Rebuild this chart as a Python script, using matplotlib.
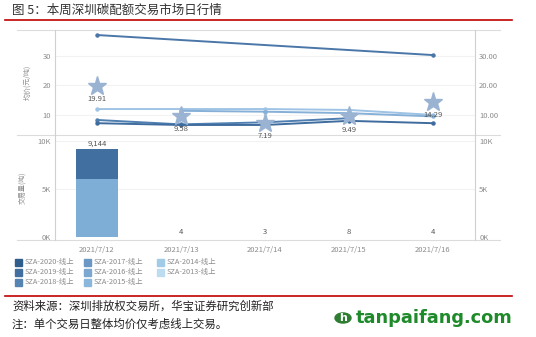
import numpy as np
import matplotlib
matplotlib.use("Agg")
import matplotlib.pyplot as plt
from matplotlib.patches import Circle
from matplotlib.lines import Line2D
from matplotlib.patches import Rectangle

plt.rcParams['font.family'] = ['Noto Sans CJK SC', 'DejaVu Sans']

# ---- data ----
dates = ["2021/7/12", "2021/7/13", "2021/7/14", "2021/7/15", "2021/7/16"]
avg_price = [19.91, 9.58, 7.19, 9.49, 14.29]
avg_price_labels = ["19.91", "9.58", "7.19", "9.49", "14.29"]
nan = np.nan
price_2020 = [37.1, nan, nan, nan, 30.3]
price_2013 = [12.0, 12.0, 12.0, 11.7, 10.0]
price_2014 = [nan, 11.4, 11.1, 10.6, 9.5]
price_2018 = [8.3, 6.8, 7.5, 8.9, nan]
price_2019 = [7.2, 6.6, 6.6, 8.0, 7.2]
volume_2019 = [3144, 0, 0, 0, 0]
volume_2015 = [6000, 4, 3, 8, 4]
volume_total = [9144, 4, 3, 8, 4]
volume_labels = ["9,144", "4", "3", "8", "4"]
legend_names = ["SZA-2020-线上", "SZA-2019-线上", "SZA-2018-线上",
                "SZA-2017-线上", "SZA-2016-线上", "SZA-2015-线上",
                "SZA-2014-线上", "SZA-2013-线上"]
legend_colors = ["#2f5d8c", "#416f9f", "#5584b3", "#6a97c3",
                 "#7ba7d0", "#8cb7dc", "#a2cbe8", "#bddcf0"]

W, H = 536, 337
fig = plt.figure(figsize=(W / 100, H / 100), dpi=100)


def rect(x0, y0, x1, y1):
    return [x0 / W, 1 - y1 / H, (x1 - x0) / W, (y1 - y0) / H]


tick_col = "#8c8c8c"
ax_line = "#d0d0d0"
x = np.arange(len(dates))

# ---- volume panel (drawn first so the price labels can overlap it) ----
ax2 = fig.add_axes(rect(55, 135, 475, 240))
ax2.patch.set_visible(False)
ax2.set_xlim(-0.5, 4.5)
ax2.set_ylim(-300, 10600)
for yv in [5000, 10000]:
    ax2.axhline(yv, color="#f2f2f2", lw=0.8, zorder=0)
ax2.bar(x, volume_2015, width=0.5, color="#7eaed6", zorder=2)
ax2.bar(x, volume_2019, width=0.5, bottom=volume_2015, color="#416f9f",
        zorder=2)
for xi, v, lab in zip(x, volume_total, volume_labels):
    ax2.text(xi, v + 150, lab, ha="center", va="bottom", fontsize=5.5,
             color="#555555")
ax2.set_yticks([0, 5000, 10000])
ax2.set_yticklabels(["0K", "5K", "10K"])
ax2.set_xticks(x)
ax2.set_xticklabels(dates)
ax2.set_ylabel("交易量(吨)", fontsize=5, color=tick_col, labelpad=8)

ax2r = ax2.twinx()
ax2r.set_ylim(ax2.get_ylim())
ax2r.set_yticks([0, 5000, 10000])
ax2r.set_yticklabels(["0K", "5K", "10K"])

for a in (ax2, ax2r):
    a.tick_params(length=0, labelsize=5.5, labelcolor=tick_col, pad=3)
    for s in a.spines.values():
        s.set_visible(False)
ax2.tick_params(axis="x", pad=4)
ax2.spines["left"].set_visible(True)
ax2.spines["left"].set_color(ax_line)
ax2.spines["left"].set_linewidth(0.8)
ax2r.spines["right"].set_visible(True)
ax2r.spines["right"].set_color(ax_line)
ax2r.spines["right"].set_linewidth(0.8)

# ---- price panel ----
ax1 = fig.add_axes(rect(55, 30, 475, 135))
ax1.patch.set_visible(False)
ax1.set_xlim(-0.5, 4.5)
ax1.set_ylim(3.2, 38.8)
ax1.set_yticks([10, 20, 30])
ax1.set_yticklabels(["10", "20", "30"])
ax1.set_xticks([])
for yv in [10, 20, 30]:
    ax1.axhline(yv, color="#f2f2f2", lw=0.8, zorder=0)

series = [(price_2020, "#4a77a8"), (price_2013, "#9fc3e4"),
          (price_2014, "#86b0d8"), (price_2018, "#4f7fb1"),
          (price_2019, "#3f6c9e")]
for vals, col in series:
    v = np.array(vals, dtype=float)
    m = ~np.isnan(v)
    ax1.plot(x[m], v[m], color=col, lw=1.4, marker="o", ms=2.2, zorder=3)

ax1.plot(x, avg_price, linestyle="none", marker="*", ms=14,
         color="#9bb3d3", zorder=4)
for xi, v, lab in zip(x, avg_price, avg_price_labels):
    ax1.text(xi, v - 3.1, lab, ha="center", va="top", fontsize=5.5,
             color="#555555", zorder=5)

ax1r = ax1.twinx()
ax1r.set_ylim(ax1.get_ylim())
ax1r.set_yticks([10, 20, 30])
ax1r.set_yticklabels(["10.00", "20.00", "30.00"])

for a in (ax1, ax1r):
    a.tick_params(length=0, labelsize=5.5, labelcolor=tick_col, pad=3)
    for s in a.spines.values():
        s.set_visible(False)
ax1.spines["left"].set_visible(True)
ax1.spines["left"].set_color(ax_line)
ax1.spines["left"].set_linewidth(0.8)
ax1r.spines["right"].set_visible(True)
ax1r.spines["right"].set_color(ax_line)
ax1r.spines["right"].set_linewidth(0.8)
ax1.set_ylabel("均价(元/吨)", fontsize=5, color=tick_col, labelpad=8)

# frame lines across the chart area
for yp in [30, 135, 240]:
    fig.add_artist(Line2D([17 / W, 500 / W], [1 - yp / H, 1 - yp / H],
                          color="#dcdcdc", lw=0.8, zorder=0))

# ---- legend ----
cols_x = [15, 84, 157]
rows_y = [262, 272, 282]
for i, (name, col) in enumerate(zip(legend_names, legend_colors)):
    cx = cols_x[i // 3]
    cy = rows_y[i % 3]
    fig.add_artist(Rectangle((cx / W, 1 - (cy + 3.5) / H), 7 / W, 7 / H,
                             color=col, transform=fig.transFigure))
    fig.text((cx + 10) / W, 1 - cy / H, name, fontsize=5.3,
             color="#8a8a8a", va="center", ha="left")

# ---- title and footer ----
fig.text(12 / W, 1 - 10 / H, "图 5：本周深圳碳配额交易市场日行情",
         fontsize=9, color="#333333", va="center", ha="left")
fig.add_artist(Line2D([5 / W, 512 / W], [1 - 20 / H, 1 - 20 / H],
                      color="#c00000", lw=1.2))
fig.add_artist(Line2D([5 / W, 512 / W], [1 - 296 / H, 1 - 296 / H],
                      color="#c00000", lw=1.2))
fig.text(12 / W, 1 - 306 / H, "资料来源：深圳排放权交易所，华宝证券研究创新部",
         fontsize=8.2, color="#222222", va="center", ha="left")
fig.text(12 / W, 1 - 324 / H, "注：单个交易日整体均价仅考虑线上交易。",
         fontsize=8.2, color="#222222", va="center", ha="left")

fig.add_artist(Circle((343 / W, 1 - 318 / H), 8 / W, color="#2e7d32",
                      transform=fig.transFigure))
fig.text(343 / W, 1 - 318 / H, "h", fontsize=8, fontweight="bold",
         color="white", ha="center", va="center", family="DejaVu Sans")
fig.text(356 / W, 1 - 318 / H, "tanpaifang.com", fontsize=12.8,
         fontweight="bold", color="#1e8a2a", ha="left", va="center",
         family="DejaVu Sans")

fig.savefig("out.png", dpi=100)
